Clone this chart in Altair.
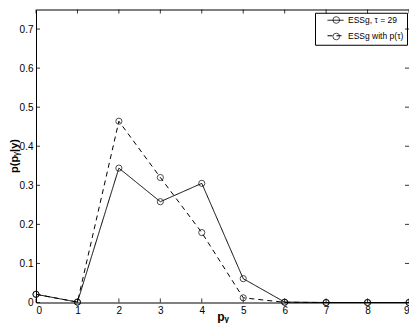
import altair as alt
import pandas as pd

# ---- data ----
x_vals = [0, 1, 2, 3, 4, 5, 6, 7, 8, 9]
ess_tau = [0.021, 0.001, 0.344, 0.258, 0.305, 0.061, 0.001, 0.0, 0.0, 0.0]
ess_ptau = [0.021, 0.001, 0.464, 0.320, 0.179, 0.012, 0.0005, 0.0, 0.0, 0.0]
series_names = ["ESSg, τ = 29", "ESSg with p(τ)"]
marker_keys = ["m1", "m2"]   # separate keys so the marker legend is not merged
x_ticks = [0, 1, 2, 3, 4, 5, 6, 7, 8, 9]
y_ticks = [0, 0.1, 0.2, 0.3, 0.4, 0.5, 0.6, 0.7]

W, H = 373, 293
FONT = "Liberation Sans"

n = len(x_vals)
df = pd.DataFrame({
    "x": x_vals * 2,
    "p": ess_tau + ess_ptau,
    "series": [series_names[0]] * n + [series_names[1]] * n,
    "marker": [marker_keys[0]] * n + [marker_keys[1]] * n,
})
xt_df = pd.DataFrame({"x": x_ticks})
yt_df = pd.DataFrame({"p": y_ticks})

xs = alt.Scale(domain=[0, 9], nice=False, zero=False)
ys = alt.Scale(domain=[0, 0.75], nice=False)

x_axis = alt.Axis(values=x_ticks, title="pᵧ", titleFont=FONT, titleFontSize=12,
                  titleFontWeight="bold", titleBaseline="alphabetic", titleY=17.5,
                  labelPadding=3, format="d")
y_axis = alt.Axis(values=y_ticks, title="p(pᵧ|y)", titleFont=FONT, titleFontSize=11,
                  titleFontWeight="bold", titleBaseline="middle", titleX=-22, titleY=146,
                  labelPadding=3, format="~g")

# legend geometry (two overlaid legends: dashed lines + circle markers)
LX, LY = 279, 3.25
common_legend = dict(
    title=None, orient="none", legendX=LX, legendY=LY, padding=3,
    symbolStrokeWidth=1, symbolStrokeColor="black", symbolFillColor="transparent",
    labelFont=FONT, labelFontSize=8.5, rowPadding=4.5,
)
# custom path scaled by sqrt(64)/2 = 4 -> 16 px line, bounds +-3.3 px vertically
line_path = "M0,-0.825M0,0.825M-2,0H2"

lines = alt.Chart(df).mark_line(color="black", strokeWidth=1).encode(
    x=alt.X("x:Q", scale=xs, axis=x_axis),
    y=alt.Y("p:Q", scale=ys, axis=y_axis),
    strokeDash=alt.StrokeDash(
        "series:N",
        scale=alt.Scale(domain=series_names, range=[[1, 0], [5, 4]]),
        legend=alt.Legend(symbolType=line_path, symbolSize=64, symbolOffset=13,
                          labelOffset=8, labelColor="black", strokeColor="black",
                          **common_legend),
    ),
)

points = alt.Chart(df).mark_point(filled=False, color="black",
                                  size=38, strokeWidth=1).encode(
    x=alt.X("x:Q", scale=xs, axis=x_axis),
    y=alt.Y("p:Q", scale=ys, axis=y_axis),
    shape=alt.Shape(
        "marker:N",
        scale=alt.Scale(domain=marker_keys, range=["circle", "circle"]),
        legend=alt.Legend(symbolSize=44, symbolOffset=14, labelOffset=8,
                          labelExpr="' '", **common_legend),
    ),
)

tick_style = dict(color="black", strokeWidth=0.8)
xt_bottom = alt.Chart(xt_df).mark_rule(**tick_style).encode(
    x=alt.X("x:Q", scale=xs, axis=x_axis), y=alt.value(H), y2=alt.value(H - 4))
xt_top = alt.Chart(xt_df).mark_rule(**tick_style).encode(
    x=alt.X("x:Q", scale=xs, axis=x_axis), y=alt.value(0), y2=alt.value(4))
yt_left = alt.Chart(yt_df).mark_rule(**tick_style).encode(
    y=alt.Y("p:Q", scale=ys, axis=y_axis), x=alt.value(0), x2=alt.value(4))
yt_right = alt.Chart(yt_df).mark_rule(**tick_style).encode(
    y=alt.Y("p:Q", scale=ys, axis=y_axis), x=alt.value(W - 4), x2=alt.value(W))

chart = alt.layer(lines, points, xt_bottom, xt_top, yt_left, yt_right).properties(
    width=W, height=H,
    autosize=alt.AutoSizeParams(type="none"),
    padding={"left": 28, "top": 1.5, "right": 0, "bottom": 20},
).configure_view(stroke="black", strokeWidth=1).configure_axis(
    domain=False, ticks=False, grid=False,
    labelFont=FONT, labelFontSize=10, labelColor="black",
    titleColor="black",
)

chart.save("out.html", embed_options={"renderer": "svg", "actions": False})
